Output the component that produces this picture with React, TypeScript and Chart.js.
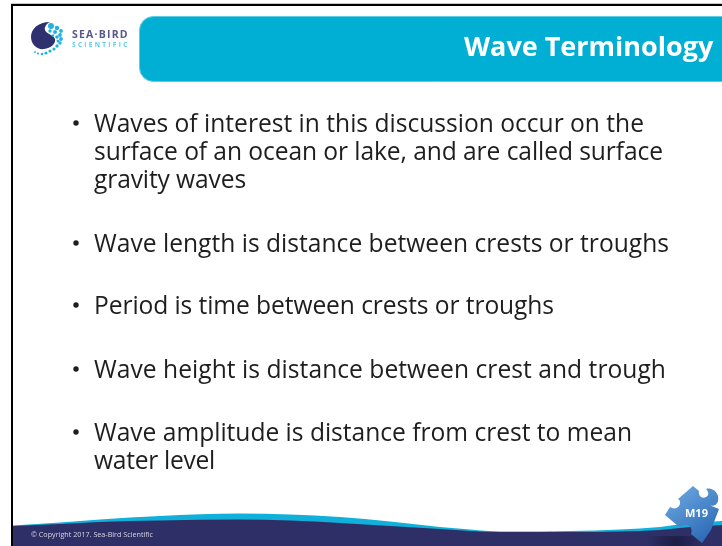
import React, { useEffect, useRef } from "react";
import { Chart, registerables } from "chart.js";

Chart.register(...registerables);

const pageWidth = 722;
const pageHeight = 546;

const titleText = "Wave Terminology";
const bodyLines = [
  "Waves of interest in this discussion occur on the",
  "surface of an ocean or lake, and are called surface",
  "gravity waves",
  "Wave length is distance between crests or troughs",
  "Period is time between crests or troughs",
  "Wave height is distance between crest and trough",
  "Wave amplitude is distance from crest to mean",
  "water level",
];
const bodyBaselines = [132, 160, 188, 252, 314, 378, 441, 469];
const bodyLineEnds = [644, 663, 246, 669, 554, 666, 632, 215];
const bulletLines = [0, 3, 4, 5, 6];
const copyrightText = "© Copyright 2017. Sea-Bird Scientific";
const moduleText = "M19";

const waveX = [13, 60, 100, 160, 240, 290, 340, 390, 440, 470, 500, 540, 570, 620, 660, 690, 722];
const tealTop = [525.5, 522.5, 519.5, 516, 513.5, 514.5, 517, 521.5, 527, 529.5, 531.5, 531.5, 531, 529.5, 527, 523, 521];
const navyTop = [526, 524, 522, 520.5, 519.5, 520.5, 523, 526, 529, 531, 532, 532, 532, 531.5, 530, 527, 525];

const toPoints = (ys: number[]) => waveX.map((x, i) => ({ x, y: ys[i] }));

const slidePlugin = {
  id: "slide",
  beforeDatasetsDraw(chart: any) {
    const c = chart.ctx as CanvasRenderingContext2D;
    c.save();
    c.fillStyle = "#ffffff";
    c.fillRect(0, 0, pageWidth, pageHeight);
    // Frame
    c.fillStyle = "#c8c8c8";
    c.fillRect(11, 3, pageWidth - 11, 1);
    c.fillStyle = "#000000";
    c.fillRect(11, 4, pageWidth - 11, 2);
    c.fillRect(11, 4, 2, pageHeight - 4);
    // Header band
    c.fillStyle = "#00afd3";
    c.strokeStyle = "#5fcbe3";
    c.lineWidth = 1;
    c.beginPath();
    c.roundRect(139.5, 16.5, 600, 65, 14);
    c.fill();
    c.stroke();
    // Logo crescent
    c.fillStyle = "#2f3070";
    c.beginPath();
    c.moveTo(50, 22);
    c.bezierCurveTo(38, 22, 31, 29, 31, 37);
    c.bezierCurveTo(31, 45, 38, 50, 44, 49);
    c.bezierCurveTo(51, 48, 56, 44, 55, 39);
    c.bezierCurveTo(54, 35, 46, 34, 45, 30);
    c.bezierCurveTo(44, 27, 47, 23, 50, 22);
    c.fill();
    c.fillStyle = "#20b4dc";
    const dots = [
      [51, 26, 3], [57, 28, 2.2], [61, 31, 1.9], [50, 31, 1.7], [55, 32, 2], [60, 35, 1.9],
      [53, 35.5, 1.3], [57, 37, 1.8], [61, 39, 1.9], [58, 41, 1.5], [60, 43, 1.7], [57, 46, 1.7],
      [54, 49, 1.6], [50, 51, 1.6], [46, 53, 1.6], [42, 54, 1.3], [38, 53.5, 1.1], [35, 52, 0.9],
    ];
    dots.forEach(([x, y, r]) => {
      c.beginPath();
      c.arc(x, y, r, 0, Math.PI * 2);
      c.fill();
    });
    c.textBaseline = "alphabetic";
    c.fillStyle = "#57568d";
    c.font = "bold 10.5px 'Open Sans'";
    (c as any).letterSpacing = "1.2px";
    c.fillText("SEA·BIRD", 72, 38);
    c.fillStyle = "#5fcde8";
    c.font = "bold 6.5px 'Open Sans'";
    (c as any).letterSpacing = "2.3px";
    c.fillText("SCIENTIFIC", 72, 47);
    (c as any).letterSpacing = "0px";
    // Title
    c.fillStyle = "#ffffff";
    c.font = "bold 27px 'Open Sans'";
    c.fillText(titleText, 464, 56);
    // Body
    c.fillStyle = "#1e1e1e";
    c.font = "24.6px 'Open Sans'";
    bodyLines.forEach((t, i) => {
      (c as any).letterSpacing = "0px";
      const natural = c.measureText(t).width;
      (c as any).letterSpacing = `${(bodyLineEnds[i] - 94 - natural) / t.length}px`;
      c.fillText(t, 94, bodyBaselines[i]);
    });
    (c as any).letterSpacing = "0px";
    bulletLines.forEach((i) => {
      c.beginPath();
      c.arc(76, bodyBaselines[i] - 9, 2.7, 0, Math.PI * 2);
      c.fill();
    });
    c.restore();
  },
  afterDatasetsDraw(chart: any) {
    const c = chart.ctx as CanvasRenderingContext2D;
    c.save();
    c.fillStyle = "#d4d4e2";
    c.font = "7.2px 'Open Sans'";
    c.fillText(copyrightText, 31, 537);
    // Shadow under the puzzle piece
    const sh = c.createRadialGradient(676, 543, 2, 676, 543, 30);
    sh.addColorStop(0, "rgba(15,15,45,0.55)");
    sh.addColorStop(1, "rgba(15,15,45,0)");
    c.fillStyle = sh;
    c.fillRect(640, 536, 70, 10);
    // Puzzle piece
    const g = c.createLinearGradient(672, 488, 708, 540);
    g.addColorStop(0, "#6ca8e0");
    g.addColorStop(1, "#2b69b5");
    c.fillStyle = g;
    c.beginPath();
    c.moveTo(678, 499);
    c.lineTo(693, 486);
    c.lineTo(699, 491);
    c.bezierCurveTo(698, 496, 702, 499, 706, 497);
    c.bezierCurveTo(710, 495, 708, 491, 706, 489);
    c.bezierCurveTo(712, 487, 720, 493, 718, 501);
    c.bezierCurveTo(717, 505, 713, 507, 709, 505);
    c.lineTo(719, 509);
    c.lineTo(711, 530);
    c.lineTo(702, 543);
    c.lineTo(691, 534);
    c.bezierCurveTo(693, 529, 690, 525, 686, 525);
    c.bezierCurveTo(682, 525, 680, 528, 678, 526);
    c.lineTo(665, 515);
    c.lineTo(670, 507);
    c.bezierCurveTo(673, 509, 677, 509, 679, 506);
    c.bezierCurveTo(681, 503, 680, 500, 678, 499);
    c.closePath();
    c.fill();
    c.fillStyle = "#ffffff";
    c.font = "bold 11px 'Open Sans'";
    c.fillText(moduleText, 685, 517);
    c.restore();
  },
};

export default function App() {
  const ref = useRef<HTMLCanvasElement>(null);
  useEffect(() => {
    const chart = new Chart(ref.current!, {
      type: "line",
      data: {
        datasets: [
          {
            label: "Footer",
            data: toPoints(navyTop),
            borderWidth: 0,
            pointRadius: 0,
            cubicInterpolationMode: "monotone",
            backgroundColor: "#2e2f66",
            fill: { target: { value: pageHeight } },
          },
          {
            label: "Crest band",
            data: toPoints(tealTop),
            borderWidth: 0,
            pointRadius: 0,
            cubicInterpolationMode: "monotone",
            backgroundColor: "#10b0da",
            fill: { target: { value: pageHeight } },
          },
        ],
      },
      options: {
        animation: false,
        responsive: false,
        layout: { padding: 0 },
        plugins: { legend: { display: false }, tooltip: { enabled: false }, title: { display: false } },
        scales: {
          x: { type: "linear", display: false, min: 0, max: pageWidth },
          y: { type: "linear", display: false, min: 0, max: pageHeight, reverse: true },
        },
      },
      plugins: [slidePlugin],
    } as any);
    return () => chart.destroy();
  }, []);
  return (
    <div style={{ position: "fixed", left: 0, top: 0, width: pageWidth, height: pageHeight, background: "#fff" }}>
      <canvas ref={ref} width={pageWidth} height={pageHeight} style={{ display: "block" }} />
    </div>
  );
}
